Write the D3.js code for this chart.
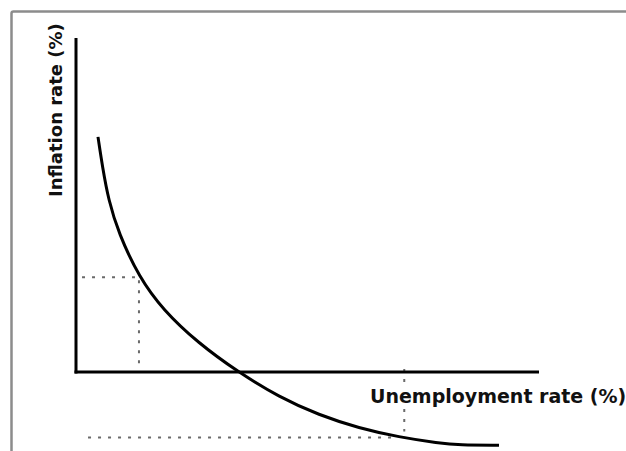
<!DOCTYPE html>
<html><head><meta charset="utf-8">
<script src="https://cdn.jsdelivr.net/npm/d3@7"></script>
<style>html,body{margin:0;padding:0;background:#fff;}svg{display:block;}</style>
</head><body>
<svg id="chart" width="626" height="451"></svg>
<script>
// Phillips curve (unemployment %, inflation %)
const unemployment = [0.475, 0.572, 0.702, 0.918, 1.361, 1.879, 2.635, 3.499, 4.384, 5.248, 6.112, 6.976, 7.840, 8.272, 9.136];
const inflation    = [7.04, 6.14, 5.15, 4.16, 2.84, 1.86, 0.87, 0.00, -0.75, -1.29, -1.68, -1.95, -2.13, -2.19, -2.19];
// reference (dotted) guides
const pointA = {u: 1.36, infl: 2.84};
const pointB = {u: 7.09, infl: -1.96};
const axisLabels = ["Unemployment rate (%)", "Inflation rate (%)"];

const svg = d3.select("#chart");
const x = d3.scaleLinear().domain([0, 10]).range([76, 539]);
const y = d3.scaleLinear().domain([0, 10]).range([372, 38]);

// frame
svg.append("rect").attr("x", 11.5).attr("y", 11.5).attr("width", 700).attr("height", 500)
  .attr("rx", 2).attr("fill", "none").attr("stroke", "#8c8c8c").attr("stroke-width", 2.5);

// dotted guides
const dot = sel => sel.attr("stroke", "#6a6a6a").attr("stroke-width", 2).attr("stroke-dasharray", "3,7").attr("fill", "none");
svg.append("line").attr("x1", x(0.13)).attr("x2", x(pointA.u)).attr("y1", y(pointA.infl)).attr("y2", y(pointA.infl)).call(dot);
svg.append("line").attr("x1", x(pointA.u)).attr("x2", x(pointA.u)).attr("y1", y(pointA.infl) + 3).attr("y2", y(0.15)).call(dot);
svg.append("line").attr("x1", x(0.26)).attr("x2", x(pointB.u) - 8).attr("y1", y(pointB.infl)).attr("y2", y(pointB.infl)).call(dot);
svg.append("line").attr("x1", x(pointB.u)).attr("x2", x(pointB.u)).attr("y1", y(0) - 3).attr("y2", y(pointB.infl) - 6).call(dot);

// axes
const axisG = svg.append("g").attr("stroke", "#000").attr("stroke-width", 3);
axisG.append("line").attr("x1", x(0)).attr("x2", x(0)).attr("y1", y(10)).attr("y2", y(0) + 1.5);
axisG.append("line").attr("x1", x(0) - 1.5).attr("x2", x(10)).attr("y1", y(0)).attr("y2", y(0));

// curve
const pts = unemployment.map((u, i) => [u, inflation[i]]);
svg.append("path").datum(pts)
  .attr("d", d3.line().x(d => x(d[0])).y(d => y(d[1])).curve(d3.curveBasis))
  .attr("fill", "none").attr("stroke", "#000").attr("stroke-width", 3);

// labels
svg.append("text").attr("x", 370).attr("y", 403)
  .attr("font-family", "DejaVu Sans").attr("font-weight", "bold").attr("font-size", 19)
  .attr("fill", "#111").attr("stroke", "#fff").attr("stroke-width", 8).attr("paint-order", "stroke")
  .text(axisLabels[0]);
svg.append("text").attr("transform", "translate(62,197) rotate(-90)")
  .attr("font-family", "DejaVu Sans").attr("font-weight", "bold").attr("font-size", 18)
  .attr("fill", "#111").text(axisLabels[1]);
</script>
</body></html>
